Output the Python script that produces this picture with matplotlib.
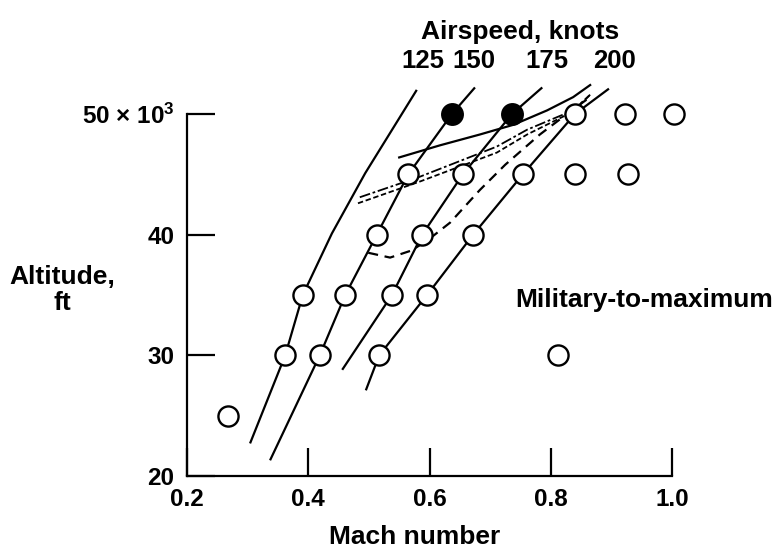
import matplotlib
matplotlib.use("Agg")
import matplotlib.pyplot as plt
import numpy as np

plt.rcParams['font.family'] = ['Liberation Sans', 'DejaVu Sans']
plt.rcParams['font.weight'] = 'bold'
plt.rcParams['mathtext.fontset'] = 'custom'
plt.rcParams['mathtext.rm'] = 'Liberation Sans:bold'
plt.rcParams['mathtext.it'] = 'Liberation Sans:bold'
plt.rcParams['mathtext.bf'] = 'Liberation Sans:bold'

# ---- data ----
x_ticks = [0.2, 0.4, 0.6, 0.8, 1.0]
x_ticklabels = ["0.2", "0.4", "0.6", "0.8", "1.0"]
y_ticks = [20, 30, 40, 50]
y_ticklabels = ["20", "30", "40", r"50 × 10$^3$"]

open_mach = [0.268, 0.362, 0.419, 0.517, 0.391, 0.461, 0.538, 0.596,
             0.513, 0.588, 0.672, 0.565, 0.655, 0.754, 0.840, 0.927,
             0.840, 0.922, 1.003, 0.812]
open_alt = [25, 30, 30, 30, 35, 35, 35, 35,
            40, 40, 40, 45, 45, 45, 45, 45,
            50, 50, 50, 30]
filled_mach = [0.637, 0.736]
filled_alt = [50, 50]

# constant airspeed lines (125, 150, 175, 200 knots)
line125_mach = [0.304, 0.362, 0.391, 0.439, 0.494, 0.579]
line125_alt = [22.7, 30.0, 35.0, 40.1, 45.1, 52.0]
line150_mach = [0.337, 0.419, 0.461, 0.513, 0.565, 0.637, 0.675]
line150_alt = [21.3, 30.0, 35.0, 40.0, 45.0, 50.0, 52.2]
line175_mach = [0.456, 0.538, 0.588, 0.655, 0.736, 0.786]
line175_alt = [28.8, 35.0, 40.0, 45.0, 50.0, 52.2]
line200_mach = [0.495, 0.517, 0.596, 0.672, 0.754, 0.840, 0.896]
line200_alt = [27.1, 30.0, 35.0, 40.0, 45.0, 50.0, 52.1]

# boundary curves
solid_mach = [0.550, 0.617, 0.683, 0.738, 0.794, 0.837, 0.865]
solid_alt = [46.4, 47.4, 48.3, 49.1, 50.3, 51.4, 52.4]
dashdot_mach = [0.485, 0.584, 0.711, 0.761, 0.837, 0.865]
dashdot_alt = [43.1, 44.8, 47.3, 48.7, 50.3, 51.6]
dashdot2_mach = [0.482, 0.584, 0.711, 0.761, 0.837, 0.865]
dashdot2_alt = [42.6, 44.4, 46.8, 48.3, 50.2, 51.6]
dashed_mach = [0.499, 0.535, 0.571, 0.601, 0.634, 0.683, 0.725, 0.782, 0.840, 0.865]
dashed_alt = [38.5, 38.1, 38.7, 39.7, 41.0, 43.7, 45.8, 48.3, 50.5, 51.4]

airspeed_labels = ["125", "150", "175", "200"]

# ---- figure ----
W, H = 782, 551
fig = plt.figure(figsize=(W / 100, H / 100), dpi=100)

# pixel mapping: M 0.2 -> 187 px, 1.0 -> 672 px ; alt 20 -> 476 px, 50 -> 114 px
px_per_M = (672 - 187) / 0.8
px_per_k = (476 - 114) / 30.0
xlim = (0.2, 1.1)
ylim = (20, 54.5)
left = 187 / W
width = (xlim[1] - xlim[0]) * px_per_M / W
bottom = (H - 476) / H
height = (ylim[1] - ylim[0]) * px_per_k / H
ax = fig.add_axes([left, bottom, width, height])
ax.set_xlim(*xlim)
ax.set_ylim(*ylim)

lw = 1.6
for xs, ys in [(line125_mach, line125_alt), (line150_mach, line150_alt),
               (line175_mach, line175_alt), (line200_mach, line200_alt)]:
    ax.plot(xs, ys, color='black', lw=lw, solid_capstyle='butt', zorder=2)

ax.plot(solid_mach, solid_alt, color='black', lw=lw, zorder=2)
ax.plot(dashdot_mach, dashdot_alt, color='black', lw=1.3,
        dashes=(6, 1.5, 1.5, 1.5), zorder=2)
ax.plot(dashdot2_mach, dashdot2_alt, color='black', lw=1.3,
        dashes=(3, 1.5), zorder=2)
ax.plot(dashed_mach, dashed_alt, color='black', lw=lw,
        dashes=(4.5, 3), zorder=2)

ax.plot(open_mach, open_alt, linestyle='none', marker='o', markersize=14.5,
        markerfacecolor='white', markeredgecolor='black', markeredgewidth=1.7, zorder=3)
ax.plot(filled_mach, filled_alt, linestyle='none', marker='o', markersize=15,
        markerfacecolor='black', markeredgecolor='black', markeredgewidth=1.5, zorder=3)

# axes styling
for s in ['top', 'right']:
    ax.spines[s].set_visible(False)
ax.spines['left'].set_bounds(20, 50)
ax.spines['bottom'].set_bounds(0.2, 1.0)
for s in ['left', 'bottom']:
    ax.spines[s].set_linewidth(1.6)
ax.set_xticks(x_ticks)
ax.set_xticklabels(x_ticklabels)
ax.set_yticks(y_ticks)
ax.set_yticklabels(y_ticklabels)
ax.tick_params(axis='both', direction='in', length=20, width=1.6,
               labelsize=17.5, pad=9)
for lab in ax.get_xticklabels() + ax.get_yticklabels():
    lab.set_fontweight('bold')

def fx(px):
    return px / W

def fy(py):
    return 1 - py / H

fig.text(fx(415), fy(537), "Mach number", ha='center', va='center',
         fontsize=19, fontweight='bold')
fig.text(fx(62), fy(290), "Altitude,\nft", ha='center', va='center',
         fontsize=19, fontweight='bold', linespacing=1.15)
fig.text(fx(520), fy(32), "Airspeed, knots", ha='center', va='center',
         fontsize=19, fontweight='bold')
for lbl, px in zip(airspeed_labels, [423, 474, 547, 614]):
    fig.text(fx(px), fy(61), lbl, ha='center', va='center',
             fontsize=18.5, fontweight='bold')
fig.text(fx(515), fy(300), "Military-to-maximum", ha='left', va='center',
         fontsize=19, fontweight='bold')

fig.savefig("out.png", dpi=100)
